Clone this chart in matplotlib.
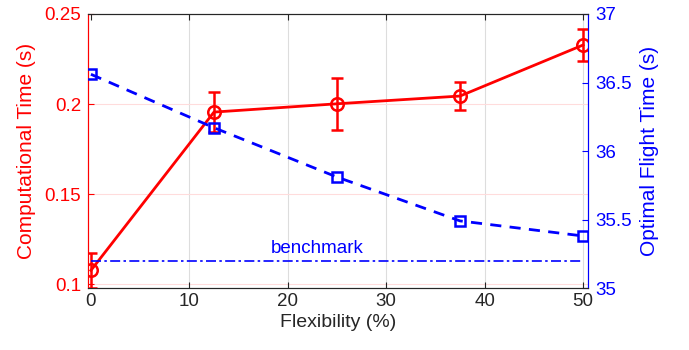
import matplotlib
matplotlib.use("Agg")
import matplotlib.pyplot as plt

plt.rcParams["font.family"] = ["Liberation Sans", "DejaVu Sans"]

# data
flex = [0, 12.5, 25, 37.5, 50]
comp_time = [0.1078, 0.1956, 0.2002, 0.2045, 0.2328]
comp_err = [0.0095, 0.011, 0.0145, 0.0078, 0.0087]
flight_time = [36.56, 36.17, 35.81, 35.49, 35.38]
benchmark = 35.2

fig = plt.figure(figsize=(6.89, 3.5), dpi=100)
ax = fig.add_axes([0.1277, 0.177, 0.7257, 0.783])
ax2 = ax.twinx()

# grid: vertical gray, horizontal light red (left axis)
for xv in [10, 20, 30, 40, 50]:
    ax.axvline(xv, color="#dddddd", lw=0.8, zorder=0)
for yv in [0.1, 0.15, 0.2]:
    ax.axhline(yv, color="#ffdcdc", lw=0.8, zorder=0)

ax.errorbar(flex, comp_time, yerr=comp_err, color="red", lw=2, marker="o",
            ms=9, mfc="none", mew=1.8, capsize=4, capthick=1.8, elinewidth=1.8,
            zorder=3)
ax2.plot(flex, flight_time, color="blue", lw=2, ls=(0, (4, 3)), marker="s",
         ms=7, mfc="none", mew=1.8, zorder=3)
ax2.plot([flex[0], flex[-1]], [benchmark, benchmark], color="blue", lw=1.2,
         ls=(0, (6, 2, 1.5, 2)))
ax2.text(23, benchmark + 0.03, "benchmark", color="blue", fontsize=13.5,
         ha="center", va="bottom")

ax.set_xlim(-0.3, 50.5)
ax.set_ylim(0.098, 0.25)
ax2.set_ylim(35, 37)
ax.set_xticks([0, 10, 20, 30, 40, 50])
ax.set_yticks([0.1, 0.15, 0.2, 0.25])
ax.set_yticklabels(["0.1", "0.15", "0.2", "0.25"])
ax2.set_yticks([35, 35.5, 36, 36.5, 37])
ax2.set_yticklabels(["35", "35.5", "36", "36.5", "37"])

ax.set_xlabel("Flexibility (%)", fontsize=14, color="#262626", labelpad=3)
ax.set_ylabel("Computational Time (s)", fontsize=15, color="red", labelpad=6)
ax2.set_ylabel("Optimal Flight Time (s)", fontsize=15, color="blue", labelpad=6)

ax.tick_params(axis="x", direction="in", colors="#262626", labelsize=13.5,
               top=True, length=4)
ax.tick_params(axis="y", direction="in", colors="red", labelsize=13.5, length=4,
               pad=5)
ax2.tick_params(axis="y", direction="in", colors="blue", labelsize=13.5,
                length=4, pad=5)

ax.spines["left"].set_color("red")
ax2.spines["left"].set_color("red")
ax2.spines["right"].set_color("blue")
ax.spines["right"].set_color("blue")
for a in (ax, ax2):
    a.spines["top"].set_color("#262626")
    a.spines["bottom"].set_color("#262626")
    for s in a.spines.values():
        s.set_linewidth(0.8)

fig.savefig("out.png", dpi=100)
